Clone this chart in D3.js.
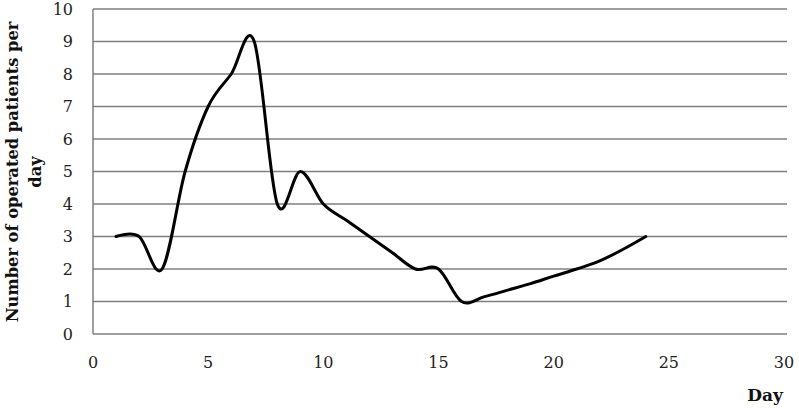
<!DOCTYPE html>
<html><head><meta charset="utf-8">
<script src="https://cdn.jsdelivr.net/npm/d3@7/dist/d3.min.js"></script>
<style>body{margin:0;background:#fff}svg{display:block}</style>
</head><body><svg id="c" width="799" height="408"></svg>
<script>
const days = [1,2,3,4,5,6,7,8,9,10,11,12,13,14,15,16,17,18,19,20,21,22,23,24];
const patients = [3,3,2,5,7,8,9,4,5,4,3.5,3,2.5,2,2,1,1.15,1.35,1.55,1.78,2,2.25,2.6,3];
const xTicks = [0,5,10,15,20,25,30];
const yTicks = [0,1,2,3,4,5,6,7,8,9,10];
const yTitleLines = ["Number of operated patients per","day"];
const xTitle = "Day";

const svg = d3.select("#c");
const font = "'DejaVu Serif', serif";
const x = d3.scaleLinear().domain([0,30]).range([93,784]);
const y = d3.scaleLinear().domain([0,10]).range([334,9]);

svg.append("g").selectAll("line").data(yTicks).join("line")
  .attr("x1",93).attr("x2",787)
  .attr("y1",d=>y(d)).attr("y2",d=>y(d))
  .attr("stroke","#7f7f7f").attr("stroke-width",1.5);
svg.append("line").attr("x1",93).attr("x2",93).attr("y1",y(10)).attr("y2",y(0))
  .attr("stroke","#7f7f7f").attr("stroke-width",1.5);

svg.append("g").selectAll("text").data(yTicks).join("text")
  .attr("x",73).attr("y",d=>y(d)).attr("dy","0.35em")
  .attr("text-anchor","end").attr("font-family",font).attr("font-size",16)
  .attr("fill","#222").text(d=>d);
svg.append("g").selectAll("text").data(xTicks).join("text")
  .attr("x",d=>x(d)).attr("y",362).attr("dy","0.35em")
  .attr("text-anchor","middle").attr("font-family",font).attr("font-size",16)
  .attr("fill","#222").text(d=>d);

const yt = svg.append("text").attr("transform","translate(0,172) rotate(-90)")
  .attr("text-anchor","middle").attr("font-family",font).attr("font-size",16.3)
  .attr("font-weight","bold").attr("fill","#111");
yTitleLines.forEach((t,i)=>yt.append("tspan").attr("x",0).attr("y",i===0?18:41).text(t));
svg.append("text").attr("x",783).attr("y",401).attr("text-anchor","end")
  .attr("font-family",font).attr("font-size",17).attr("font-weight","bold")
  .attr("fill","#111").text(xTitle);

const line = d3.line().x((d,i)=>x(days[i])).y(d=>y(d)).curve(d3.curveCardinal.tension(0));
svg.append("path").datum(patients).attr("d",line)
  .attr("fill","none").attr("stroke","#000").attr("stroke-width",3)
  .attr("stroke-linejoin","round").attr("stroke-linecap","round");
</script></body></html>
